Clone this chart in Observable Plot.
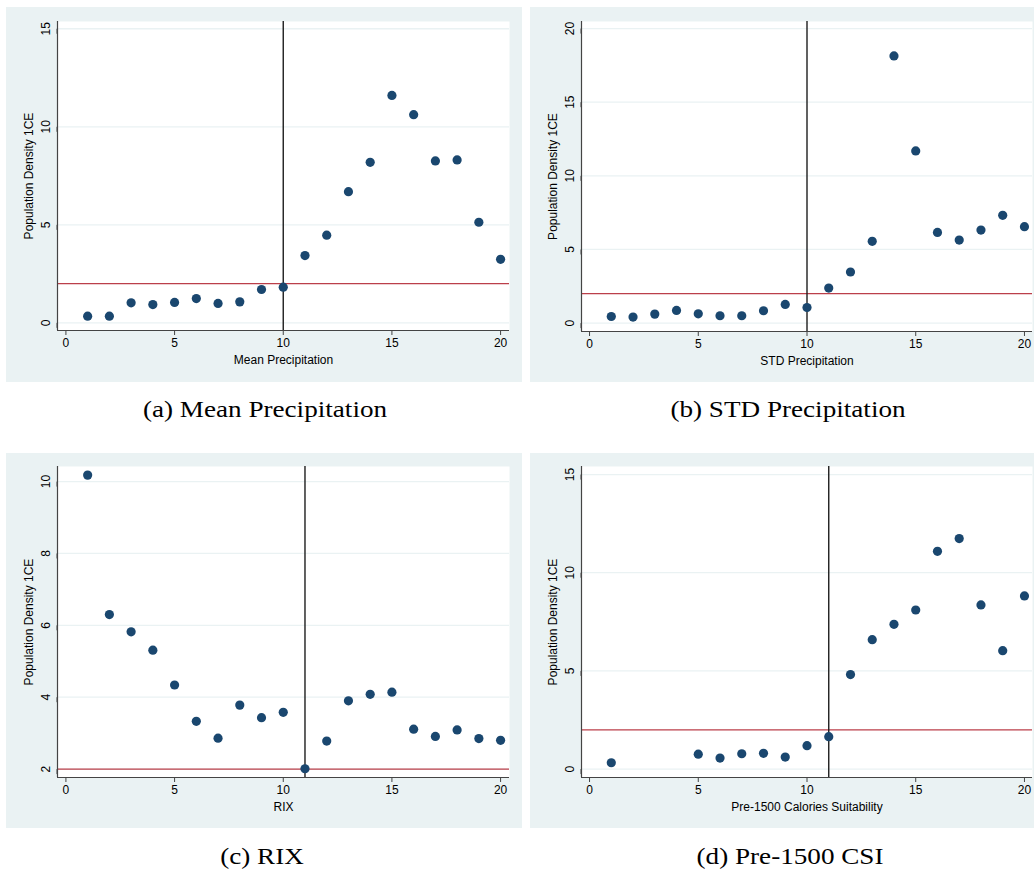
<!DOCTYPE html>
<html><head><meta charset="utf-8">
<script src="https://cdn.jsdelivr.net/npm/d3@7"></script>
<script src="https://cdn.jsdelivr.net/npm/@observablehq/plot@0.6"></script>
<style>
html,body{margin:0;padding:0;background:#fff}
body{width:1034px;height:872px;position:relative;overflow:hidden}
.panel{position:absolute}
.panel svg{display:block}
.cap{position:absolute;width:400px;margin-left:-200px;text-align:center;font-family:"Liberation Serif","Times New Roman",serif;font-size:23px;line-height:24px;color:#000;white-space:nowrap;transform:scaleX(1.18);transform-origin:50% 50%}
</style></head><body>
<script>
// ---- data ----
const bins = [1,2,3,4,5,6,7,8,9,10,11,12,13,14,15,16,17,18,19,20];
const meanPrecip = [0.34,0.34,1.02,0.93,1.04,1.24,0.99,1.07,1.70,1.82,3.43,4.47,6.69,8.19,11.60,10.62,8.26,8.31,5.13,3.24];
const stdPrecip  = [0.45,0.41,0.61,0.86,0.63,0.50,0.50,0.84,1.27,1.06,2.38,3.47,5.55,18.14,11.69,6.16,5.64,6.32,7.32,6.55];
const rix        = [10.18,6.30,5.82,5.31,4.34,3.33,2.86,3.78,3.43,3.58,2.01,2.78,3.90,4.08,4.14,3.11,2.91,3.09,2.85,2.80];
const csiBins    = [1,5,6,7,8,9,10,11,12,13,14,15,16,17,18,19,20];
const csi        = [0.32,0.76,0.56,0.78,0.80,0.61,1.19,1.65,4.81,6.59,7.37,8.10,11.09,11.74,8.36,6.03,8.82];
const xTicks = [0,5,10,15,20];
const yTicksA = [0,5,10,15];
const yTicksB = [0,5,10,15,20];
const yTicksC = [2,4,6,8,10];
const yTicksD = [0,5,10,15];
const yLabel = "Population Density 1CE";
const xLabels = ["Mean Precipitation","STD Precipitation","RIX","Pre-1500 Calories Suitability"];
const captions = ["(a) Mean Precipitation","(b) STD Precipitation","(c) RIX","(d) Pre-1500 CSI"];
const hLine = [2,2,2,2];
const vLine = [10,10,11,11];

const BG = "#eaf2f3", NAVY = "#1a476f", RED = "#bb3f4a";

function panel(o){
  const data = o.xs.map((x,i)=>({x, y:o.ys[i]}));
  const p = Plot.plot({
    width:o.w, height:o.h,
    marginLeft:o.ml, marginRight:o.mr, marginTop:o.mt, marginBottom:o.mb,
    style:{background:BG, fontFamily:"'Liberation Sans', Arial, sans-serif", fontSize:"12px", color:"#000", overflow:"visible"},
    x:{domain:o.xd},
    y:{domain:o.yd},
    marks:[
      Plot.frame({fill:"white", stroke:null}),
      Plot.gridY(o.yTicks, {stroke:BG, strokeOpacity:1, strokeWidth:1.3}),
      Plot.ruleY([o.hl], {stroke:RED, strokeWidth:1.3}),
      Plot.ruleX([o.vl], {stroke:"#1e1e1e", strokeWidth:1.4}),
      Plot.dot(data, {x:"x", y:"y", r:4.6, fill:NAVY, stroke:null}),
      Plot.ruleX([o.xd[0]], {stroke:"#444", strokeWidth:1.2}),
      Plot.ruleY([o.yd[0]], {stroke:"#444", strokeWidth:1.2}),
      Plot.axisX(xTicks, {tickSize:5, tickPadding:3, stroke:"#444", label:o.xlabel, labelAnchor:"center", labelArrow:"none", labelOffset:33}),
      Plot.axisY(o.yTicks, {tickSize:5, tickPadding:3, stroke:"#444", rotate:-90, textAnchor:"middle", lineAnchor:"bottom", label:yLabel, labelAnchor:"center", labelArrow:"none", labelOffset:33})
    ]
  });
  const d = document.createElement("div");
  d.className = "panel";
  d.style.left = o.left+"px"; d.style.top = o.top+"px";
  d.appendChild(p);
  document.body.appendChild(d);
}

panel({left:6, top:7, w:516, h:375, ml:51, mr:13, mt:14, mb:52, xs:bins, ys:meanPrecip, xd:[-0.387,20.41], yd:[-0.39,15.37], yTicks:yTicksA, hl:hLine[0], vl:vLine[0], xlabel:xLabels[0]});
panel({left:530, top:7, w:504, h:375, ml:51, mr:2, mt:14, mb:51, xs:bins, ys:stdPrecip, xd:[-0.37,20.37], yd:[-0.57,20.48], yTicks:yTicksB, hl:hLine[1], vl:vLine[1], xlabel:xLabels[1]});
panel({left:6, top:453, w:516, h:375, ml:51, mr:13, mt:13, mb:51, xs:bins, ys:rix, xd:[-0.387,20.41], yd:[1.766,10.42], yTicks:yTicksC, hl:hLine[2], vl:vLine[2], xlabel:xLabels[2]});
panel({left:530, top:453, w:504, h:375, ml:51, mr:2, mt:13, mb:51, xs:csiBins, ys:csi, xd:[-0.37,20.37], yd:[-0.43,15.41], yTicks:yTicksD, hl:hLine[3], vl:vLine[3], xlabel:xLabels[3]});

const capPos = [[265,398],[788,398],[262,845],[790,845]];
captions.forEach((t,i)=>{
  const c = document.createElement("div");
  c.className = "cap";
  c.textContent = t;
  c.style.left = capPos[i][0]+"px"; c.style.top = capPos[i][1]+"px";
  document.body.appendChild(c);
});
</script>
</body></html>
